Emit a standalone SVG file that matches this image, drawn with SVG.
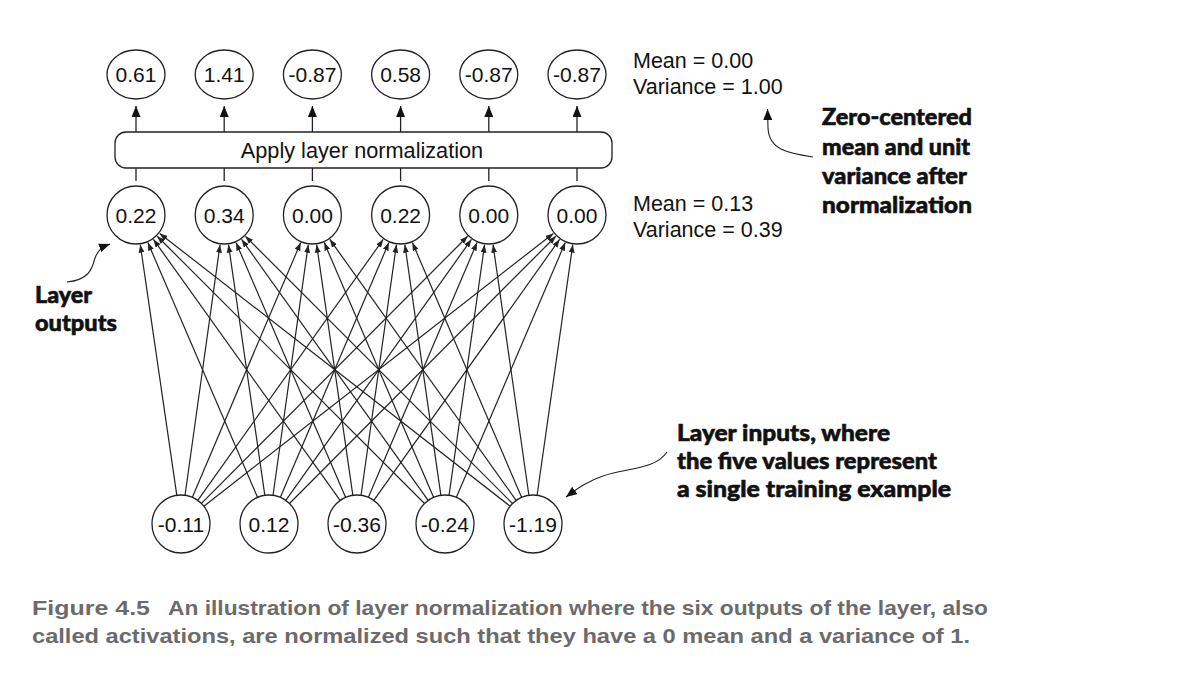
<svg xmlns="http://www.w3.org/2000/svg" width="1204" height="684" viewBox="0 0 1204 684">
<style>
.node{fill:#fff;stroke:#222;stroke-width:1.3}
.lbl{font-family:"Liberation Sans",Arial,sans-serif;font-size:21px;fill:#111;text-anchor:middle}
.box{font-size:21.7px}
.stat{font-family:"Liberation Sans",Arial,sans-serif;font-size:21.5px;fill:#111}
.ann{font-family:Lato,"Liberation Sans",sans-serif;font-weight:900;font-size:23.5px;fill:#111;stroke:#111;stroke-width:0.6}
.cap{font-family:"Liberation Sans",Arial,sans-serif;font-weight:700;font-size:21px;fill:#6b6b6b}
.edge{stroke:#222;stroke-width:1.2;fill:none;marker-end:url(#sm)}
.up{stroke:#222;stroke-width:1.3;fill:none;marker-end:url(#big)}
.tick{stroke:#222;stroke-width:1.3}
.curve{stroke:#222;stroke-width:1.1;fill:none;marker-end:url(#big)}
</style>
<defs>
<marker id="sm" markerUnits="userSpaceOnUse" markerWidth="8" markerHeight="6" refX="8" refY="3" orient="auto"><path d="M0,0 L8,3 L0,6 z" fill="#222"/></marker>
<marker id="big" markerUnits="userSpaceOnUse" markerWidth="11" markerHeight="9" refX="11" refY="4.5" orient="auto"><path d="M0,0 L11,4.5 L0,9 z" fill="#111"/></marker>
</defs>
<rect width="1204" height="684" fill="#fff"/>

<g id="connectors">
<line class="up" x1="136" y1="132" x2="136" y2="106"/>
<line class="up" x1="224.2" y1="132" x2="224.2" y2="106"/>
<line class="up" x1="312.4" y1="132" x2="312.4" y2="106"/>
<line class="up" x1="400.6" y1="132" x2="400.6" y2="106"/>
<line class="up" x1="488.8" y1="132" x2="488.8" y2="106"/>
<line class="up" x1="577" y1="132" x2="577" y2="106"/>
<line class="tick" x1="136" y1="168" x2="136" y2="181"/>
<line class="tick" x1="224.2" y1="168" x2="224.2" y2="181"/>
<line class="tick" x1="312.4" y1="168" x2="312.4" y2="181"/>
<line class="tick" x1="400.6" y1="168" x2="400.6" y2="181"/>
<line class="tick" x1="488.8" y1="168" x2="488.8" y2="181"/>
<line class="tick" x1="577" y1="168" x2="577" y2="181"/>

<line class="edge" x1="176.82" y1="495.30" x2="140.32" y2="244.69"/>
<line class="edge" x1="257.53" y1="497.36" x2="147.86" y2="242.56"/>
<line class="edge" x1="340.13" y1="500.41" x2="153.45" y2="239.40"/>
<line class="edge" x1="424.49" y1="503.49" x2="157.21" y2="236.21"/>
<line class="edge" x1="510.12" y1="506.19" x2="159.67" y2="233.43"/>

<line class="edge" x1="185.02" y1="495.28" x2="220.05" y2="244.71"/>
<line class="edge" x1="264.84" y1="495.30" x2="228.50" y2="244.69"/>
<line class="edge" x1="345.55" y1="497.36" x2="236.05" y2="242.56"/>
<line class="edge" x1="428.14" y1="500.41" x2="241.64" y2="239.41"/>
<line class="edge" x1="512.50" y1="503.49" x2="245.41" y2="236.22"/>

<line class="edge" x1="192.35" y1="497.31" x2="300.66" y2="242.61"/>
<line class="edge" x1="273.03" y1="495.28" x2="308.23" y2="244.71"/>
<line class="edge" x1="352.86" y1="495.30" x2="316.69" y2="244.69"/>
<line class="edge" x1="433.56" y1="497.35" x2="324.23" y2="242.57"/>
<line class="edge" x1="516.15" y1="500.40" x2="329.83" y2="239.42"/>

<line class="edge" x1="197.80" y1="500.36" x2="383.22" y2="239.45"/>
<line class="edge" x1="280.36" y1="497.32" x2="388.85" y2="242.60"/>
<line class="edge" x1="361.05" y1="495.28" x2="396.41" y2="244.71"/>
<line class="edge" x1="440.88" y1="495.30" x2="404.87" y2="244.69"/>
<line class="edge" x1="521.58" y1="497.34" x2="412.41" y2="242.58"/>

<line class="edge" x1="201.47" y1="503.45" x2="467.63" y2="236.25"/>
<line class="edge" x1="285.81" y1="500.37" x2="471.41" y2="239.45"/>
<line class="edge" x1="368.38" y1="497.33" x2="477.03" y2="242.59"/>
<line class="edge" x1="449.07" y1="495.29" x2="484.59" y2="244.70"/>
<line class="edge" x1="528.89" y1="495.29" x2="493.05" y2="244.70"/>

<line class="edge" x1="203.86" y1="506.16" x2="553.35" y2="233.46"/>
<line class="edge" x1="289.47" y1="503.46" x2="555.82" y2="236.25"/>
<line class="edge" x1="373.82" y1="500.38" x2="559.60" y2="239.44"/>
<line class="edge" x1="456.39" y1="497.33" x2="565.22" y2="242.59"/>
<line class="edge" x1="537.09" y1="495.29" x2="572.77" y2="244.70"/>

<path class="curve" d="M67,282 C88,280 92,270 95,258 C98,250 102,247 110,244"/>
<path class="curve" d="M813,157 C788,153 769,150 768,128 L767.5,109"/>
<path class="curve" d="M667,452 C655,470 625,468 603,476 C588,481 578,488 566,497"/>
</g>

<g id="top-nodes">
<g id="out0"><ellipse class="node" cx="136" cy="74.5" rx="29" ry="24.5"/><text class="lbl" x="136" y="82">0.61</text></g>
<g id="out1"><ellipse class="node" cx="224.2" cy="74.5" rx="29" ry="24.5"/><text class="lbl" x="224.2" y="82">1.41</text></g>
<g id="out2"><ellipse class="node" cx="312.4" cy="74.5" rx="29" ry="24.5"/><text class="lbl" x="312.4" y="82">-0.87</text></g>
<g id="out3"><ellipse class="node" cx="400.6" cy="74.5" rx="29" ry="24.5"/><text class="lbl" x="400.6" y="82">0.58</text></g>
<g id="out4"><ellipse class="node" cx="488.8" cy="74.5" rx="29" ry="24.5"/><text class="lbl" x="488.8" y="82">-0.87</text></g>
<g id="out5"><ellipse class="node" cx="577" cy="74.5" rx="29" ry="24.5"/><text class="lbl" x="577" y="82">-0.87</text></g>
</g>

<g id="norm-box">
<rect class="node" x="115" y="132" width="497" height="36" rx="11"/>
<text class="lbl box" x="362" y="157.5">Apply layer normalization</text>
</g>

<g id="mid-nodes">
<g id="mid0"><circle class="node" cx="136" cy="215" r="29"/><text class="lbl" x="136" y="222.5">0.22</text></g>
<g id="mid1"><circle class="node" cx="224.2" cy="215" r="29"/><text class="lbl" x="224.2" y="222.5">0.34</text></g>
<g id="mid2"><circle class="node" cx="312.4" cy="215" r="29"/><text class="lbl" x="312.4" y="222.5">0.00</text></g>
<g id="mid3"><circle class="node" cx="400.6" cy="215" r="29"/><text class="lbl" x="400.6" y="222.5">0.22</text></g>
<g id="mid4"><circle class="node" cx="488.8" cy="215" r="29"/><text class="lbl" x="488.8" y="222.5">0.00</text></g>
<g id="mid5"><circle class="node" cx="577" cy="215" r="29"/><text class="lbl" x="577" y="222.5">0.00</text></g>
</g>

<g id="in-nodes">
<g id="in0"><circle class="node" cx="181" cy="524" r="29"/><text class="lbl" x="181" y="531.5">-0.11</text></g>
<g id="in1"><circle class="node" cx="269" cy="524" r="29"/><text class="lbl" x="269" y="531.5">0.12</text></g>
<g id="in2"><circle class="node" cx="357" cy="524" r="29"/><text class="lbl" x="357" y="531.5">-0.36</text></g>
<g id="in3"><circle class="node" cx="445" cy="524" r="29"/><text class="lbl" x="445" y="531.5">-0.24</text></g>
<g id="in4"><circle class="node" cx="533" cy="524" r="29"/><text class="lbl" x="533" y="531.5">-1.19</text></g>
</g>

<g id="stats">
<text class="stat" x="633" y="68">Mean = 0.00</text>
<text class="stat" x="633" y="94">Variance = 1.00</text>
<text class="stat" x="633" y="211">Mean = 0.13</text>
<text class="stat" x="633" y="237">Variance = 0.39</text>
</g>

<g id="annotations">
<text class="ann" x="35" y="303" textLength="57" lengthAdjust="spacingAndGlyphs">Layer</text>
<text class="ann" x="35" y="331" textLength="82" lengthAdjust="spacingAndGlyphs">outputs</text>
<text class="ann" x="822" y="125" textLength="150" lengthAdjust="spacingAndGlyphs">Zero-centered</text>
<text class="ann" x="822" y="155" textLength="148" lengthAdjust="spacingAndGlyphs">mean and unit</text>
<text class="ann" x="822" y="184" textLength="145" lengthAdjust="spacingAndGlyphs">variance after</text>
<text class="ann" x="822" y="213" textLength="150" lengthAdjust="spacingAndGlyphs">normalization</text>
<text class="ann" x="677" y="441" textLength="213" lengthAdjust="spacingAndGlyphs">Layer inputs, where</text>
<text class="ann" x="677" y="469" textLength="260" lengthAdjust="spacingAndGlyphs">the five values represent</text>
<text class="ann" x="677" y="497" textLength="274" lengthAdjust="spacingAndGlyphs">a single training example</text>
</g>

<g id="caption">
<text class="cap" x="32" y="615" textLength="118" lengthAdjust="spacingAndGlyphs">Figure 4.5</text>
<text class="cap" x="168" y="615" textLength="820" lengthAdjust="spacingAndGlyphs">An illustration of layer normalization where the six outputs of the layer, also</text>
<text class="cap" x="32" y="643" textLength="938" lengthAdjust="spacingAndGlyphs">called activations, are normalized such that they have a 0 mean and a variance of 1.</text>
</g>
</svg>
